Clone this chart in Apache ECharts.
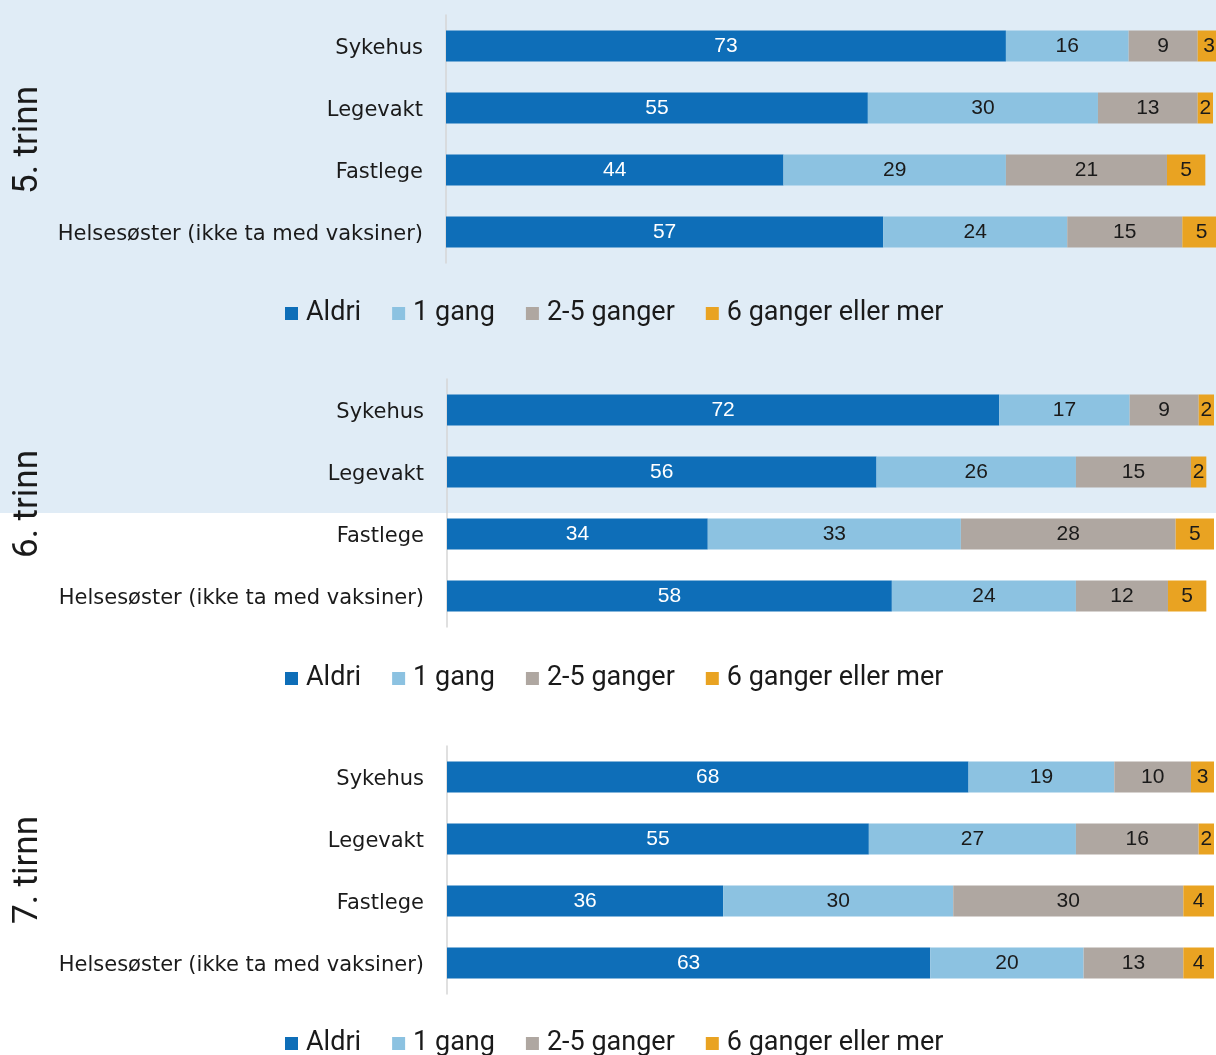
<!DOCTYPE html>
<html>
<head>
<meta charset="utf-8">
<script src="https://cdn.jsdelivr.net/npm/echarts@6/dist/echarts.min.js"></script>
<style>
  html, body { margin: 0; padding: 0; background: #ffffff; }
  #chart { width: 1216px; height: 1055px; }
</style>
</head>
<body>
<div id="chart"></div>
<script>
// Kategorier og serienavn
const categories = ['Sykehus', 'Legevakt', 'Fastlege', 'Helsesøster (ikke ta med vaksiner)'];
const seriesNames = ['Aldri', '1 gang', '2-5 ganger', '6 ganger eller mer'];
const panelTitles = ['5. trinn', '6. trinn', '7. tirnn'];

// 5. trinn
const aldri5 = [73, 55, 44, 57];
const gang5 = [16, 30, 29, 24];
const flere5 = [9, 13, 21, 15];
const mange5 = [3, 2, 5, 5];

// 6. trinn
const aldri6 = [72, 56, 34, 58];
const gang6 = [17, 26, 33, 24];
const flere6 = [9, 15, 28, 12];
const mange6 = [2, 2, 5, 5];

// 7. trinn
const aldri7 = [68, 55, 36, 63];
const gang7 = [19, 27, 30, 20];
const flere7 = [10, 16, 30, 13];
const mange7 = [3, 2, 4, 4];

const panels = [
  [aldri5, gang5, flere5, mange5],
  [aldri6, gang6, flere6, mange6],
  [aldri7, gang7, flere7, mange7]
];

const colors = ['#0e6eb8', '#8cc2e1', '#afa7a1', '#e9a322'];
const labelColors = ['#ffffff', '#1a1a1a', '#1a1a1a', '#1a1a1a'];

const gridTops = [15, 379, 746];
const gridLefts = [446, 447, 447];
const legendTops = [295, 660, 1025];
const titleCenters = [140, 504, 870];
const axisMax = 100;
const plotWidth = 767;

const grids = [], xAxes = [], yAxes = [], series = [], legends = [];

panels.forEach((panel, p) => {
  grids.push({
    left: gridLefts[p],
    top: gridTops[p],
    width: plotWidth,
    height: 248,
    containLabel: false
  });
  xAxes.push({
    type: 'value', gridIndex: p, min: 0, max: axisMax,
    show: false
  });
  yAxes.push({
    type: 'category', gridIndex: p, data: categories, inverse: true,
    axisLine: { show: true, lineStyle: { color: '#d6d6d6', width: 1.5 } },
    axisTick: { show: false },
    axisLabel: {
      margin: 23,
      formatter: (v) => '{c|' + v + '}',
      rich: {
        c: {
          color: '#1a1a1a', fontFamily: 'DejaVu Sans', fontSize: 21,
          padding: [5, 0, 0, 0]
        }
      }
    }
  });
  panel.forEach((values, s) => {
    series.push({
      name: seriesNames[s],
      type: 'bar',
      stack: 'p' + p,
      xAxisIndex: p,
      yAxisIndex: p,
      barWidth: '50%',
      clip: false,
      data: values,
      itemStyle: { color: colors[s] },
      label: {
        show: true,
        position: 'inside',
        color: labelColors[s],
        fontFamily: '"Liberation Sans", Arial, sans-serif',
        fontSize: 21,
        padding: [4, 0, 0, 0]
      },
      emphasis: { disabled: true }
    });
  });
  legends.push({
    data: seriesNames,
    left: 280,
    top: legendTops[p],
    itemWidth: 13,
    itemHeight: 13,
    itemGap: 31,
    icon: 'rect',
    textStyle: {
      color: '#1a1a1a', fontFamily: 'Roboto', fontSize: 27,
      padding: [0, 0, 0, 3]
    }
  });
});

const graphics = [
  {
    type: 'rect', left: 0, top: 0, z: -100, silent: true,
    shape: { width: 1216, height: 513 },
    style: { fill: '#e0ecf6' }
  }
];
panelTitles.forEach((t, i) => {
  graphics.push({
    type: 'text', x: 28, y: titleCenters[i], rotation: Math.PI / 2,
    silent: true,
    style: {
      text: t, fill: '#1a1a1a', font: '35px Roboto',
      textAlign: 'center', textVerticalAlign: 'middle'
    }
  });
});

const chart = echarts.init(document.getElementById('chart'));
chart.setOption({
  animation: false,
  backgroundColor: '#ffffff',
  graphic: graphics,
  grid: grids,
  xAxis: xAxes,
  yAxis: yAxes,
  legend: legends,
  series: series
});
</script>
</body>
</html>
